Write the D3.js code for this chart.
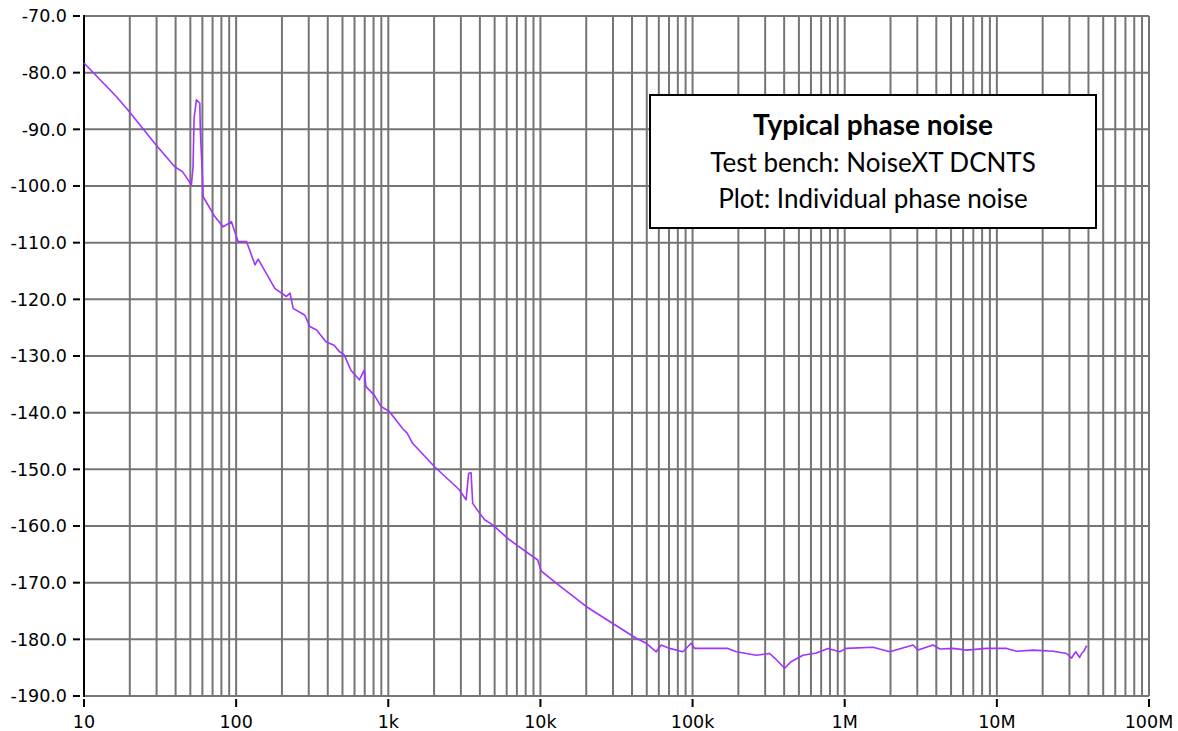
<!DOCTYPE html>
<html>
<head>
<meta charset="utf-8">
<script src="https://cdn.jsdelivr.net/npm/d3@7"></script>
<style>
  body { margin: 0; background: #fff; }
  svg { display: block; }
</style>
</head>
<body>
<svg id="chart" width="1178" height="731"></svg>
<script>
// offset frequency (Hz)
var freqHz = [10, 16.3, 20, 29.2, 39.5, 44.5, 50.8,
  52.1, 52.9, 54.8, 57.7, 58.2, 60, 60.7,
  72.4, 82.1, 93.1, 103, 117, 133, 139.5, 180, 214, 226, 237, 283, 305, 338,
  389, 413, 441, 476, 513, 568, 645, 695, 713, 809, 895, 1015, 1242,
  1330, 1445, 2007, 2932, 3245, 3376, 3501, 3587, 3850, 4300, 4856, 6100, 6921, 9600, 10106, 12685,
  19980, 29910, 42630, 49600, 57710, 62260, 70600, 86360, 98000,
  103100, 170700, 193900, 262500, 321100, 346400, 403000, 446000, 531800,
  651300, 776600, 927000, 1026000, 1536000, 1978000, 2814000, 3035000,
  3809000, 4217000, 5158000, 6319000, 8554000, 11580000, 13480000,
  17330000, 23460000, 28740000, 31000000, 33000000, 35000000, 36070000,
  37500000, 38910000];

// phase noise (dBc/Hz)
var phaseNoise = [-78.3, -84.2, -87.0, -92.5, -96.6, -97.5, -99.8,
  -96.6, -88.1, -84.8, -85.4, -90.4, -98.1, -101.9,
  -105.4, -107.2, -106.3, -109.8, -109.8, -113.9, -112.9, -118.1, -119.5, -118.9, -121.6, -122.8, -124.8, -125.4,
  -127.5, -127.8, -128.1, -129.2, -129.8, -132.5, -134.2, -132.5, -135.4, -136.9, -138.9, -139.8, -142.8,
  -143.6, -145.4, -149.5, -153.6, -155.4, -150.7, -150.6, -156.0, -157.2, -158.9, -159.8, -162.2, -163.3, -166.0, -167.9, -170.1,
  -174.2, -177.2, -179.8, -180.7, -182.2, -181.0, -181.6, -182.2, -180.7,
  -181.6, -181.6, -182.2, -182.8, -182.5, -183.3, -185.1, -183.9, -182.8,
  -182.4, -181.6, -182.2, -181.6, -181.4, -182.2, -181.0, -181.9,
  -181.0, -181.7, -181.6, -181.9, -181.6, -181.6, -182.1,
  -181.9, -182.1, -182.5, -183.3, -182.2, -183.2, -182.5,
  -182.0, -181.1];

var yTicks = [-70, -80, -90, -100, -110, -120, -130, -140, -150, -160, -170, -180, -190];
var xTicks = [10, 100, 1e3, 1e4, 1e5, 1e6, 1e7, 1e8];
var xTickLabels = ["10", "100", "1k", "10k", "100k", "1M", "10M", "100M"];

var legendLines = ["Typical phase noise", "Test bench: NoiseXT DCNTS", "Plot: Individual phase noise"];

var svg = d3.select("#chart");
var plotL = 84, plotR = 1149, plotT = 16, plotB = 696;

var x = d3.scaleLog().domain([10, 1e8]).range([plotL, plotR]);
var y = d3.scaleLinear().domain([-190, -70]).range([plotB, plotT]);

svg.append("rect").attr("width", 1178).attr("height", 731).attr("fill", "#fff");

// minor + major vertical grid
var gridX = [];
xTicks.slice(0, -1).forEach(function(d) {
  for (var k = 1; k < 10; k++) gridX.push(d * k);
});
gridX.push(1e8);

var grid = svg.append("g").attr("stroke", "#757575").attr("stroke-width", 2);
grid.selectAll("line.v").data(gridX).enter().append("line")
  .attr("class", "v")
  .attr("x1", function(d) { return x(d); })
  .attr("x2", function(d) { return x(d); })
  .attr("y1", plotT).attr("y2", plotB);
grid.selectAll("line.h").data(yTicks).enter().append("line")
  .attr("class", "h")
  .attr("x1", plotL).attr("x2", plotR)
  .attr("y1", function(d) { return y(d); })
  .attr("y2", function(d) { return y(d); });

// left axis line
svg.append("line")
  .attr("x1", plotL).attr("x2", plotL)
  .attr("y1", plotT - 1).attr("y2", plotB + 1)
  .attr("stroke", "#000").attr("stroke-width", 2);

// y ticks + labels
var yAxis = svg.append("g");
yAxis.selectAll("line").data(yTicks).enter().append("line")
  .attr("x1", 73).attr("x2", 80)
  .attr("y1", function(d) { return y(d); })
  .attr("y2", function(d) { return y(d); })
  .attr("stroke", "#000").attr("stroke-width", 2);
yAxis.selectAll("text").data(yTicks).enter().append("text")
  .attr("x", 67)
  .attr("y", function(d) { return y(d); })
  .attr("dy", "0.36em")
  .attr("text-anchor", "end")
  .attr("font-family", "DejaVu Sans, sans-serif")
  .attr("font-size", 17.5)
  .attr("fill", "#000")
  .text(function(d) { return d.toFixed(1); });

// x ticks + labels
var xAxis = svg.append("g");
xAxis.selectAll("line").data(xTicks).enter().append("line")
  .attr("x1", function(d) { return x(d); })
  .attr("x2", function(d) { return x(d); })
  .attr("y1", 699).attr("y2", 707)
  .attr("stroke", "#000").attr("stroke-width", 2);
xAxis.selectAll("text").data(xTicks).enter().append("text")
  .attr("x", function(d) { return x(d); })
  .attr("y", 728)
  .attr("text-anchor", "middle")
  .attr("font-family", "DejaVu Sans, sans-serif")
  .attr("font-size", 17.5)
  .attr("fill", "#000")
  .text(function(d, i) { return xTickLabels[i]; });

// trace
var pts = freqHz.map(function(f, i) { return [f, phaseNoise[i]]; });
var line = d3.line()
  .x(function(d) { return x(d[0]); })
  .y(function(d) { return y(d[1]); });
svg.append("path")
  .datum(pts)
  .attr("d", line)
  .attr("fill", "none")
  .attr("stroke", "#a033ff")
  .attr("stroke-width", 1.6)
  .attr("stroke-linejoin", "round");

// legend box
var lg = svg.append("g");
lg.append("rect")
  .attr("x", 650).attr("y", 95).attr("width", 446).attr("height", 133)
  .attr("fill", "#fff").attr("stroke", "#000").attr("stroke-width", 2);
lg.selectAll("text").data(legendLines).enter().append("text")
  .attr("x", 873)
  .attr("y", function(d, i) { return 135 + i * 36.5; })
  .attr("text-anchor", "middle")
  .attr("font-family", "Lato, sans-serif")
  .attr("font-size", function(d, i) { return i === 0 ? 28 : 26; })
  .attr("font-weight", function(d, i) { return i === 0 ? "bold" : "normal"; })
  .attr("fill", "#000")
  .text(function(d) { return d; });
</script>
</body>
</html>
